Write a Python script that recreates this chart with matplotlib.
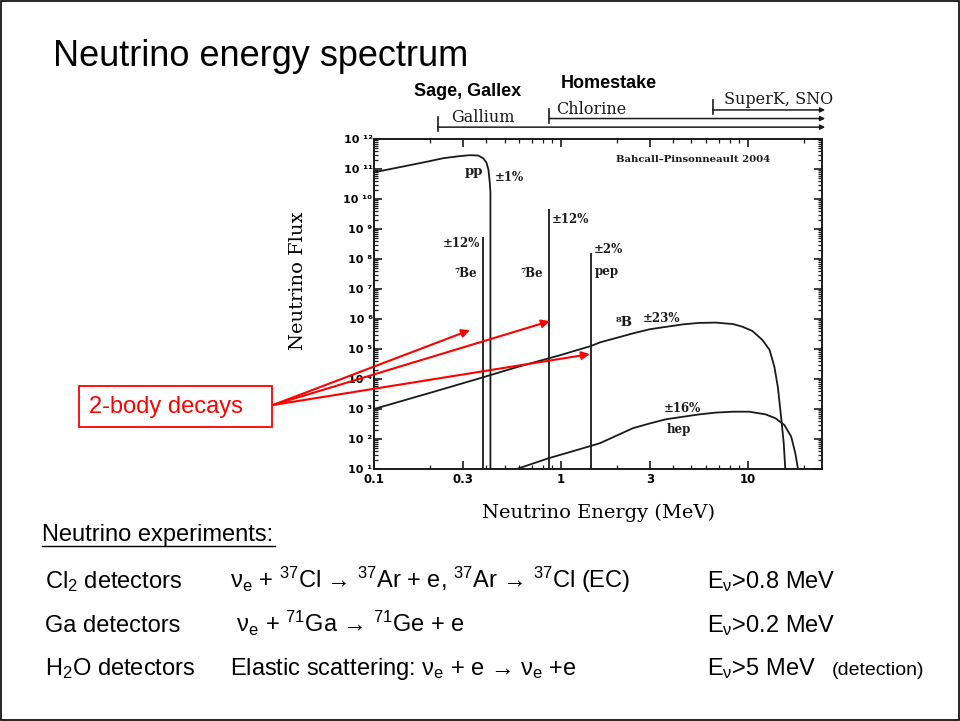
import matplotlib
matplotlib.use("Agg")
import matplotlib.pyplot as plt
from matplotlib import font_manager
from matplotlib.patches import Rectangle
from matplotlib.ticker import FixedLocator, NullFormatter

# spectrum (energy in MeV, log10 of flux)
pp_e = [0.1, 0.156, 0.191, 0.235, 0.288, 0.326, 0.361, 0.384, 0.40, 0.41, 0.417, 0.42, 0.42]
pp_lf = [10.89, 11.13, 11.24, 11.36, 11.43, 11.46, 11.45, 11.36, 11.21, 10.97, 10.52, 10.2, 1.0]

b8_e = [0.1, 0.2, 0.38, 0.6, 1.0, 1.45, 1.62, 2.43, 3.0, 3.67, 4.49, 5.5, 6.75, 8.37, 9.4,
        10.6, 12.0, 13.1, 13.9, 14.5, 15.1, 15.6, 15.9]
b8_lf = [3.0, 3.54, 4.05, 4.42, 4.8, 5.1, 5.22, 5.52, 5.66, 5.74, 5.82, 5.87, 5.88, 5.83, 5.74,
         5.6, 5.3, 4.97, 4.41, 3.74, 2.74, 1.86, 1.0]

hep_e = [0.58, 0.862, 1.2, 1.62, 2.0, 2.43, 3.0, 3.67, 4.49, 5.5, 6.75, 8.37, 10.2, 12.5,
         14.1, 15.7, 17.1, 18.0, 18.6]
hep_lf = [1.0, 1.36, 1.62, 1.86, 2.12, 2.36, 2.52, 2.66, 2.74, 2.82, 2.88, 2.91, 2.91, 2.82,
          2.69, 2.47, 2.08, 1.52, 1.0]

# mono-energetic lines: (energy, log10 flux at top)
lines_e = [0.384, 0.862, 1.442]
lines_lf = [8.72, 9.68, 8.2]

# detector thresholds (MeV) for the bars above the plot
thr_names = ["Gallium", "Chlorine", "SuperK, SNO"]
thr_e = [0.22, 0.863, 6.5]

x_major = [0.1, 0.3, 1, 3, 10]
x_major_lbl = ["0.1", "0.3", "1", "3", "10"]
y_exp = list(range(1, 13))
sup = str.maketrans("0123456789", "⁰¹²³⁴⁵⁶⁷⁸⁹")

names = {f.name for f in font_manager.fontManager.ttflist}
narrow = "Liberation Sans Narrow" if "Liberation Sans Narrow" in names else "Liberation Sans"
sans = [narrow, "Liberation Sans", "DejaVu Sans"]

plt.rcParams["mathtext.fontset"] = "custom"
plt.rcParams["mathtext.rm"] = narrow
plt.rcParams["mathtext.it"] = narrow + ":italic"
plt.rcParams["mathtext.bf"] = narrow + ":bold"

W, H = 960, 721
fig = plt.figure(figsize=(W / 100, H / 100), dpi=100)


def fx(px):
    return px / W


def fy(py):
    return 1 - py / H


fig.add_artist(Rectangle((0.001, 0.001), 0.998, 0.997, transform=fig.transFigure,
                         fill=False, ec="black", lw=1.2))

fig.text(fx(53), fy(66), "Neutrino energy spectrum", fontsize=26,
         family=["Liberation Sans", "DejaVu Sans"])

ax = fig.add_axes([fx(374), fy(469), fx(822) - fx(374), fy(139) - fy(469)])
ax.set_xscale("log")
ax.set_yscale("log")
ax.set_xlim(0.1, 25)
ax.set_ylim(10, 1e12)

ink = "#1a1a1a"
ax.plot(pp_e, [10 ** v for v in pp_lf], color=ink, lw=1.3)
ax.plot(b8_e, [10 ** v for v in b8_lf], color=ink, lw=1.3)
ax.plot(hep_e, [10 ** v for v in hep_lf], color=ink, lw=1.3)
ax.vlines(lines_e, 10, [10 ** v for v in lines_lf], color=ink, lw=1.3)

for s in ax.spines.values():
    s.set_linewidth(1.4)
    s.set_color(ink)

ax.xaxis.set_major_locator(FixedLocator(x_major))
ax.set_xticklabels(x_major_lbl)
ax.xaxis.set_minor_locator(FixedLocator([0.2, 0.4, 0.5, 0.6, 0.7, 0.8, 0.9, 2, 4, 5, 6, 7, 8, 9, 20]))
ax.xaxis.set_minor_formatter(NullFormatter())
ax.yaxis.set_major_locator(FixedLocator([10 ** k for k in y_exp]))
ax.set_yticklabels(["10 " + str(k).translate(sup) for k in y_exp])
ax.yaxis.set_minor_locator(FixedLocator([m * 10 ** k for k in range(1, 12) for m in range(2, 10)]))
ax.yaxis.set_minor_formatter(NullFormatter())
ax.tick_params(which="both", direction="in", top=True, right=True, color=ink)
ax.tick_params(which="major", length=6, width=1.2)
ax.tick_params(which="minor", length=3, width=0.9)
ax.tick_params(axis="x", which="major", pad=3, labelsize=8.5)
ax.tick_params(axis="y", which="major", pad=1, labelsize=8)
for t in ax.get_xticklabels() + ax.get_yticklabels():
    t.set_fontweight("bold")
    t.set_family("DejaVu Sans")

ax.set_xlabel("Neutrino Energy (MeV)", family="DejaVu Serif", fontsize=14, labelpad=13)
ax.set_ylabel("Neutrino Flux", family="DejaVu Serif", fontsize=14)
ax.yaxis.set_label_coords(-0.15, 0.57)

ann = dict(family="DejaVu Serif", fontweight="bold", fontsize=8.5, color=ink,
           ha="center", va="center")
ax.text(0.884, 0.937, "Bahcall\u2013Pinsonneault 2004", transform=ax.transAxes, ha="right",
        va="center", fontsize=7.3, family="DejaVu Serif", fontweight="bold", color=ink)
ax.text(0.345, 10 ** 10.93, "pp", **dict(ann, fontsize=9.5))
ax.text(0.533, 10 ** 10.73, "±1%", **ann)
ax.text(0.292, 10 ** 8.53, "±12%", **ann)
ax.text(0.31, 10 ** 7.53, "⁷Be", **ann)
ax.text(0.70, 10 ** 7.53, "⁷Be", **ann)
ax.text(1.12, 10 ** 9.33, "±12%", **ann)
ax.text(1.8, 10 ** 8.33, "±2%", **ann)
ax.text(1.76, 10 ** 7.57, "pep", **ann)
ax.text(2.17, 10 ** 5.87, "⁸B", **dict(ann, fontsize=9.5))
ax.text(3.45, 10 ** 6.0, "±23%", **ann)
ax.text(4.49, 10 ** 3.03, "±16%", **ann)
ax.text(4.3, 10 ** 2.3, "hep", **ann)

# threshold bars above the plot
xt = ax.get_xaxis_transform()
bar_y = [1.036, 1.062, 1.088]
bar_lbl = [(0.383, 1.064, "center"), (0.94, 1.09, "left"), (7.45, 1.119, "left")]
for e, yb, (lx, ly, ha), name in zip(thr_e, bar_y, bar_lbl, thr_names):
    ax.annotate("", xy=(26, yb), xycoords=xt, xytext=(e, yb), textcoords=xt,
                arrowprops=dict(arrowstyle="-|>", color=ink, lw=1.1, mutation_scale=7,
                                shrinkA=0, shrinkB=0), annotation_clip=False)
    ax.plot([e, e], [yb - 0.012, yb + 0.03], transform=xt, color=ink, lw=1.2, clip_on=False)
    ax.text(lx, ly, name, transform=xt, ha=ha, va="center", family="DejaVu Serif",
            fontsize=11.5, color=ink)

fig.text(fx(468), fy(91), "Sage, Gallex", ha="center", va="center", fontsize=13,
         fontweight="bold", family=["Liberation Sans", "DejaVu Sans"])
fig.text(fx(609), fy(84), "Homestake", ha="center", va="center", fontsize=13,
         fontweight="bold", family=["Liberation Sans", "DejaVu Sans"])

# 2-body decay callout
red = "#ff0000"
fig.add_artist(Rectangle((fx(79), fy(427)), fx(272) - fx(79), fy(386) - fy(427),
                         transform=fig.transFigure, fill=False, ec=red, lw=1.3))
fig.text(fx(89), fy(407), "2-body decays", color=red, fontsize=17, va="center",
         family=["Liberation Sans", "DejaVu Sans"])
heads_e = [0.326, 0.873, 1.43]
heads_lf = [5.63, 5.93, 4.83]
for e, v in zip(heads_e, heads_lf):
    ax.annotate("", xy=(e, 10 ** v), xycoords="data", xytext=(fx(273), fy(405)),
                textcoords="figure fraction",
                arrowprops=dict(arrowstyle="-|>", color=red, lw=1.5, mutation_scale=12,
                                shrinkA=0, shrinkB=0), annotation_clip=False)

# experiments table
fs = 17
fig.text(fx(42), fy(541), "Neutrino experiments:", fontsize=fs, family=sans, va="baseline")
fig.add_artist(plt.Line2D([fx(42), fx(275)], [fy(546), fy(546)], transform=fig.transFigure,
                          color="black", lw=1))

rows_det = ["Cl$_2$ detectors", "Ga detectors", "H$_2$O detectors"]
rows_rx = [r"ν$_\mathrm{e}$ + $^{37}$Cl → $^{37}$Ar + e, $^{37}$Ar → $^{37}$Cl (EC)",
           r" ν$_\mathrm{e}$ + $^{71}$Ga → $^{71}$Ge + e",
           r"Elastic scattering: ν$_\mathrm{e}$ + e → ν$_\mathrm{e}$ +e"]
rows_thr = [r"E$_\mathrm{\nu}$>0.8 MeV", r"E$_\mathrm{\nu}$>0.2 MeV", r"E$_\mathrm{\nu}$>5 MeV"]
rows_y = [588, 632, 675]
for det, rx, th, y in zip(rows_det, rows_rx, rows_thr, rows_y):
    fig.text(fx(45), fy(y), det, fontsize=fs, family=sans, va="baseline")
    fig.text(fx(230), fy(y), rx, fontsize=fs, family=sans, va="baseline")
    fig.text(fx(707), fy(y), th, fontsize=fs, family=sans, va="baseline")
fig.text(fx(832), fy(675), "(detection)", fontsize=14, family=sans, va="baseline")

fig.savefig("out.png", dpi=100)
